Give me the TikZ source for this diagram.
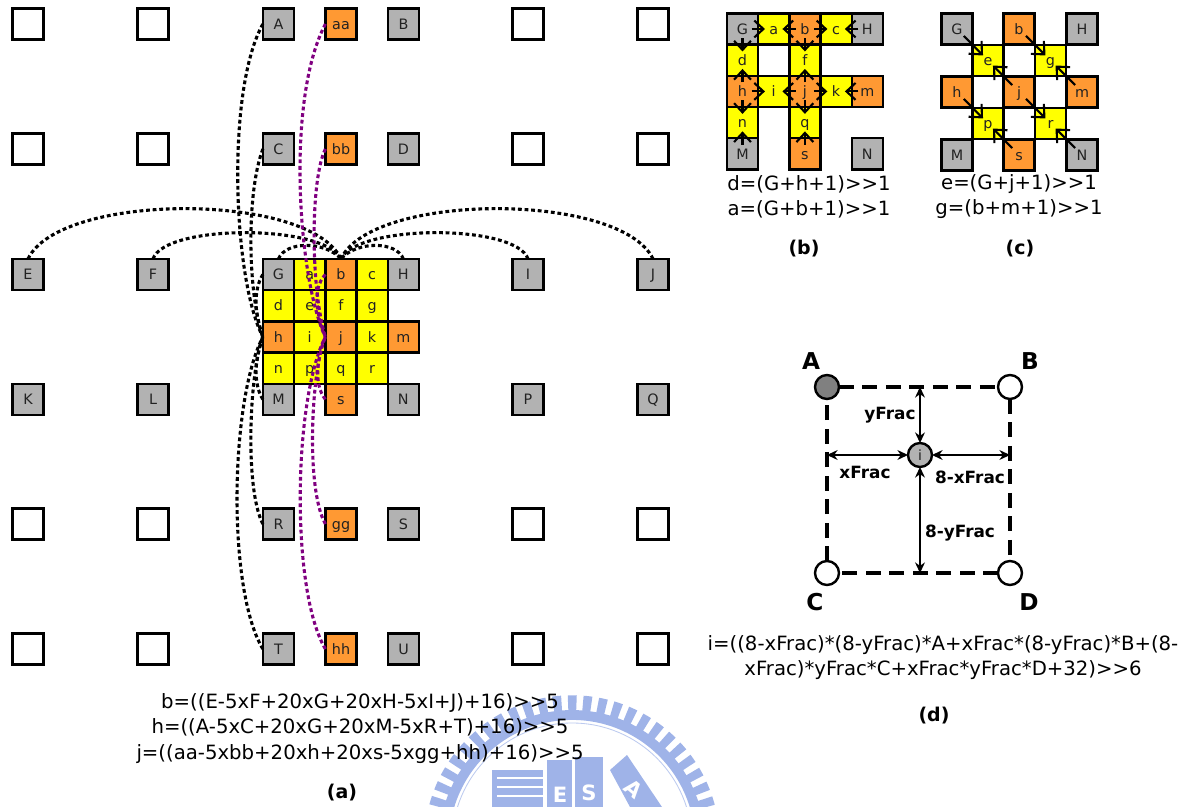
\documentclass[tikz,border=0pt]{standalone}
\usepackage{fontspec}
\setmainfont{DejaVu Sans}
\usetikzlibrary{arrows.meta,calc,positioning}
\definecolor{greyCol}{HTML}{B2B2B2}
\definecolor{orangeCol}{HTML}{FF9933}
\definecolor{yellowCol}{HTML}{FFFF00}
\definecolor{purpleEdge}{HTML}{800080}
\definecolor{darkCol}{HTML}{808080}
\definecolor{logoCol}{HTML}{9FB3E8}
\definecolor{txtCol}{HTML}{222222}
\newcommand{\shr}{>{}>}

\begin{document}
\begin{tikzpicture}[x=0.025cm,y=-0.025cm]
  \tikzset{cell/.style={draw=black,fill=#1,line width=1.7pt,minimum size=0.78cm,inner sep=0pt,outer sep=0pt,
        text=txtCol,text height=7.5pt,text depth=0pt,font=\fontsize{10.2pt}{11pt}\selectfont},
    cell/.default=white,
    bk/.style={line width=2.2pt,dash pattern=on 2.7pt off 2pt},
    pu/.style={bk,draw=purpleEdge},
    arw/.style={line width=1.5pt,-{Straight Barb[length=6.5pt,width=12pt,line width=1.5pt]}},
    darw/.style={line width=1.5pt,-{Straight Barb[length=7pt,width=13pt,line width=1.5pt]}},
    spot/.style={draw=black,fill=#1,circle,line width=1.7pt,minimum size=0.6cm,inner sep=0pt,outer sep=0pt},
    spot/.default=white,
    edgeL/.style={line width=2.5pt,dash pattern=on 10.5pt off 6.2pt},
    dimarw/.style={line width=1.6pt,{Stealth[length=7.5pt,width=7pt]}-{Stealth[length=7.5pt,width=7pt]}},
    frm/.style={align=center,inner sep=0pt,font=\fontsize{14pt}{18pt}\selectfont},
    captxt/.style={inner sep=0pt,font=\fontsize{13.5pt}{15pt}\selectfont\bfseries},
    lab/.style={inner sep=0pt,font=\fontsize{12pt}{13pt}\selectfont\bfseries},
    bigtxt/.style={inner sep=0pt,font=\fontsize{16.5pt}{18pt}\selectfont\bfseries}}
  \useasboundingbox (0,0) rectangle (1193,807);

  % logo behind the formulas
  \begin{scope}
    \clip (0,0) rectangle (1193,807);
    \draw[logoCol,line width=7pt] (572,843) circle (128);
    \draw[logoCol,line width=11pt,dash pattern=on 6pt off 4.6pt] (572,843) circle (140);
    \draw[logoCol!70,line width=0.6pt] (572,843) circle (120);
    \fill[logoCol] (492,770) rectangle (543,807);
    \draw[white,line width=1.4pt] (497,778) -- (543,778);
    \draw[white,line width=1.4pt] (497,787) -- (543,787);
    \draw[white,line width=1.4pt] (497,796) -- (543,796);
    \fill[logoCol] (547,760) rectangle (572,807);
    \fill[logoCol] (575,757) rectangle (603,807);
    \fill[logoCol] (610,770) -- (627,755) -- (662,807) -- (630,807) -- cycle;
    \node[white,inner sep=0pt,font=\fontsize{15pt}{17pt}\selectfont\bfseries] (logoE) at (560,795) {E};
    \node[white,inner sep=0pt,font=\fontsize{15pt}{17pt}\selectfont\bfseries] (logoS) at (589,793) {S};
    \node[white,inner sep=0pt,rotate=-40,font=\fontsize{15pt}{17pt}\selectfont\bfseries] (logoA) at (634,789) {A};
  \end{scope}

  % panel a
  \node[cell] (e1) at (28,24) {};
  \node[cell] (e2) at (153,24) {};
  \node[cell=greyCol] (A) at (278.5,24) {A};
  \node[cell=orangeCol] (aa) at (341,24) {aa};
  \node[cell=greyCol] (B) at (403.5,24) {B};
  \node[cell] (e3) at (528,24) {};
  \node[cell] (e4) at (653,24) {};
  \node[cell] (e5) at (28,149) {};
  \node[cell] (e6) at (153,149) {};
  \node[cell=greyCol] (C) at (278.5,149) {C};
  \node[cell=orangeCol] (bb) at (341,149) {bb};
  \node[cell=greyCol] (D) at (403.5,149) {D};
  \node[cell] (e7) at (528,149) {};
  \node[cell] (e8) at (653,149) {};
  \node[cell=greyCol] (E) at (28,274.5) {E};
  \node[cell=greyCol] (F) at (153,274.5) {F};
  \node[cell=greyCol] (G) at (278.5,274.5) {G};
  \node[cell=yellowCol,right=0pt of G] (a) {a};
  \node[cell=orangeCol,right=0pt of a] (b) {b};
  \node[cell=yellowCol,right=0pt of b] (c) {c};
  \node[cell=greyCol,right=0pt of c] (H) {H};
  \node[cell=greyCol] (I) at (528,274.5) {I};
  \node[cell=greyCol] (J) at (653,274.5) {J};
  \node[cell=yellowCol,below=0pt of G] (d) {d};
  \node[cell=yellowCol,right=0pt of d] (e) {e};
  \node[cell=yellowCol,right=0pt of e] (f) {f};
  \node[cell=yellowCol,right=0pt of f] (g) {g};
  \node[cell=orangeCol,below=0pt of d] (h) {h};
  \node[cell=yellowCol,right=0pt of h] (i) {i};
  \node[cell=orangeCol,right=0pt of i] (j) {j};
  \node[cell=yellowCol,right=0pt of j] (k) {k};
  \node[cell=orangeCol,right=0pt of k] (m) {m};
  \node[cell=yellowCol,below=0pt of h] (n) {n};
  \node[cell=yellowCol,right=0pt of n] (p) {p};
  \node[cell=yellowCol,right=0pt of p] (q) {q};
  \node[cell=yellowCol,right=0pt of q] (r) {r};
  \node[cell=greyCol,below=0pt of n] (M) {M};
  \node[cell=orangeCol,below=0pt of q] (s) {s};
  \node[cell=greyCol,below=0pt of r,xshift=0.78cm] (N) {N};
  \node[cell=greyCol] (K) at (28,399.5) {K};
  \node[cell=greyCol] (L) at (153,399.5) {L};
  \node[cell=greyCol] (P) at (528,399.5) {P};
  \node[cell=greyCol] (Q) at (653,399.5) {Q};
  \node[cell] (e9) at (28,524) {};
  \node[cell] (e10) at (153,524) {};
  \node[cell=greyCol] (R) at (278.5,524) {R};
  \node[cell=orangeCol] (gg) at (341,524) {gg};
  \node[cell=greyCol] (S) at (403.5,524) {S};
  \node[cell] (e11) at (528,524) {};
  \node[cell] (e12) at (653,524) {};
  \node[cell] (e13) at (28,649) {};
  \node[cell] (e14) at (153,649) {};
  \node[cell=greyCol] (T) at (278.5,649) {T};
  \node[cell=orangeCol] (hh) at (341,649) {hh};
  \node[cell=greyCol] (U) at (403.5,649) {U};
  \node[cell] (e15) at (528,649) {};
  \node[cell] (e16) at (653,649) {};
  \draw[bk] (E.north) .. controls +(32,-67) and +(-31,-67) .. (b.north);
  \draw[bk] (F.north) .. controls +(12,-35) and +(-17,-35) .. (b.north);
  \draw[bk] (G.north) .. controls +(7,-18) and +(-16,-18) .. (b.north);
  \draw[bk] (H.north) .. controls +(-7,-18) and +(16,-18) .. (b.north);
  \draw[bk] (I.north) .. controls +(-12,-35) and +(17,-35) .. (b.north);
  \draw[bk] (J.north) .. controls +(-32,-67) and +(31,-67) .. (b.north);
  \draw[bk] (A.west) .. controls +(-37,66) and +(-30,-57) .. (h.west);
  \draw[bk] (C.west) .. controls +(-16,41) and +(-16,-47) .. (h.west);
  \draw[bk] (G.west) .. controls +(-10,15) and +(-8,-20) .. (h.west);
  \draw[bk] (M.west) .. controls +(-10,-15) and +(-8,20) .. (h.west);
  \draw[bk] (R.west) .. controls +(-18,-34) and +(-14,38) .. (h.west);
  \draw[bk] (T.west) .. controls +(-36,-59) and +(-33,63) .. (h.west);
  \draw[pu] (aa.west) .. controls +(-40,76) and +(-27,-57) .. (j.west);
  \draw[pu] (bb.west) .. controls +(-15,30) and +(-15,-50) .. (j.west);
  \draw[pu] (b.west) .. controls +(-14,15) and +(-8,-20) .. (j.west);
  \draw[pu] (s.west) .. controls +(-12,-15) and +(-8,20) .. (j.west);
  \draw[pu] (gg.west) .. controls +(-20,-35) and +(-14,33) .. (j.west);
  \draw[pu] (hh.west) .. controls +(-35,-59) and +(-32,63) .. (j.west);
  \node[frm] (fa) at (360,728.5) {b=((E-5xF+20xG+20xH-5xI+J)+16)\shr5\\h=((A-5xC+20xG+20xM-5xR+T)+16)\shr5\\j=((aa-5xbb+20xh+20xs-5xgg+hh)+16)\shr5};
  \node[captxt] (capa) at (342,793) {(a)};

  % panel b
  \node[cell=greyCol] (b-G) at (742.5,29) {G};
  \node[cell=yellowCol,right=0pt of b-G] (b-a) {a};
  \node[cell=orangeCol,right=0pt of b-a] (b-b) {b};
  \node[cell=yellowCol,right=0pt of b-b] (b-c) {c};
  \node[cell=greyCol,right=0pt of b-c] (b-H) {H};
  \node[cell=yellowCol,below=0pt of b-G] (b-d) {d};
  \node[cell=yellowCol,below=0pt of b-b] (b-f) {f};
  \node[cell=orangeCol,below=0pt of b-d] (b-h) {h};
  \node[cell=yellowCol,right=0pt of b-h] (b-i) {i};
  \node[cell=orangeCol,right=0pt of b-i] (b-j) {j};
  \node[cell=yellowCol,right=0pt of b-j] (b-k) {k};
  \node[cell=orangeCol,right=0pt of b-k] (b-m) {m};
  \node[cell=yellowCol,below=0pt of b-h] (b-n) {n};
  \node[cell=yellowCol,below=0pt of b-j] (b-q) {q};
  \node[cell=greyCol,below=0pt of b-n] (b-M) {M};
  \node[cell=orangeCol,below=0pt of b-q] (b-s) {s};
  \node[cell=greyCol,below=0pt of b-q,xshift=1.56cm] (b-N) {N};
  \foreach \src/\dst in {G/a,b/a,b/c,H/c,G/d,h/d,b/f,j/f,h/i,j/i,j/k,m/k,h/n,M/n,j/q,s/q}
    \draw[arw] ($(b-\src)!0.29!(b-\dst)$) -- ($(b-\src)!0.72!(b-\dst)$);
  \node[frm] (fb) at (809,196.5) {d=(G+h+1)\shr1\\a=(G+b+1)\shr1};
  \node[captxt] (capb) at (804,249) {(b)};

  % panel c
  \node[cell=greyCol] (c-G) at (957,29) {G};
  \node[cell=orangeCol] (c-b) at (1019,29) {b};
  \node[cell=greyCol] (c-H) at (1082,29) {H};
  \node[cell=yellowCol] (c-e) at (988,60.5) {e};
  \node[cell=yellowCol] (c-g) at (1050.5,60.5) {g};
  \node[cell=orangeCol] (c-h) at (957,92) {h};
  \node[cell=orangeCol] (c-j) at (1019,92) {j};
  \node[cell=orangeCol] (c-m) at (1082,92) {m};
  \node[cell=yellowCol] (c-p) at (988,123.5) {p};
  \node[cell=yellowCol] (c-r) at (1050.5,123.5) {r};
  \node[cell=greyCol] (c-M) at (957,155) {M};
  \node[cell=orangeCol] (c-s) at (1019,155) {s};
  \node[cell=greyCol] (c-N) at (1082,155) {N};
  \foreach \src/\dst in {G/e,j/e,b/g,m/g,h/p,s/p,j/r,N/r}
    \draw[darw] ($(c-\src)!0.22!(c-\dst)$) -- ($(c-\src)!0.84!(c-\dst)$);
  \node[frm] (fc) at (1019,196.5) {e=(G+j+1)\shr1\\g=(b+m+1)\shr1};
  \node[captxt] (capc) at (1020,249) {(c)};

  % panel d
  \node[spot=darkCol] (dA) at (827,387) {};
  \node[spot] (dB) at (1010,387) {};
  \node[spot] (dC) at (827,573) {};
  \node[spot] (dD) at (1010,573) {};
  \node[spot=greyCol,text=txtCol,font=\fontsize{10pt}{11pt}\selectfont] (di) at (920,455) {i};
  \draw[edgeL] (dA) -- (dB);
  \draw[edgeL] (dB) -- (dD);
  \draw[edgeL] (dD) -- (dC);
  \draw[edgeL] (dC) -- (dA);
  \draw[dimarw] (di) -- (di |- dA);
  \draw[dimarw] (di) -- (di |- dC);
  \draw[dimarw] (di) -- (di -| dA);
  \draw[dimarw] (di) -- (di -| dB);
  \node[bigtxt] (labA) at (811,361) {A};
  \node[bigtxt] (labB) at (1030,361) {B};
  \node[bigtxt] (labC) at (815,602) {C};
  \node[bigtxt] (labD) at (1029,602) {D};
  \node[lab] (ly) at (890,415) {yFrac};
  \node[lab] (lx) at (865,472) {xFrac};
  \node[lab] (lxx) at (970,477) {8-xFrac};
  \node[lab] (lyy) at (960,533) {8-yFrac};
  \node[frm] (fd) at (943,657.5) {i=((8-xFrac)*(8-yFrac)*A+xFrac*(8-yFrac)*B+(8-\\xFrac)*yFrac*C+xFrac*yFrac*D+32)\shr6};
  \node[captxt] (capd) at (934,716) {(d)};
\end{tikzpicture}
\end{document}
